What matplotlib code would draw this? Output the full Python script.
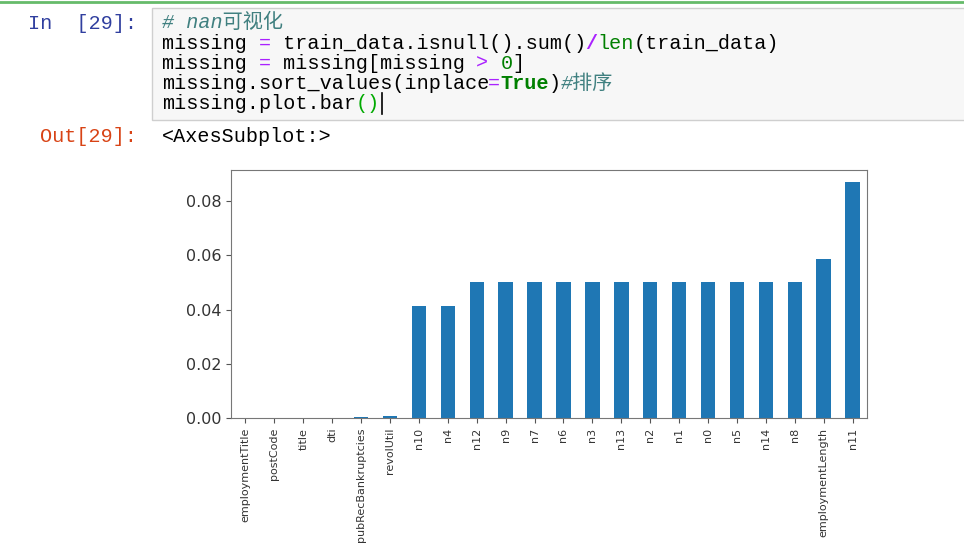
import matplotlib
matplotlib.use('Agg')
import matplotlib.pyplot as plt
from matplotlib.patches import Rectangle

# missing ratio per column (already sorted)
cols = ['employmentTitle', 'postCode', 'title', 'dti', 'pubRecBankruptcies',
        'revolUtil', 'n10', 'n4', 'n12', 'n9', 'n7', 'n6', 'n3', 'n13', 'n2',
        'n1', 'n0', 'n5', 'n14', 'n8', 'employmentLength', 'n11']
ratio = [0.0000013, 0.0000013, 0.0000013, 0.0001, 0.0005,
         0.00066, 0.0415, 0.0415, 0.0503, 0.0503, 0.0503, 0.0503, 0.0503, 0.0503, 0.0503,
         0.0503, 0.0503, 0.0503, 0.0503, 0.0503, 0.0587, 0.0872]

# code cell lines: (text, colour, weight, style)
BLK = '#000000'
OPR = '#AA22FF'
GRN = '#008000'
CMT = '#408080'
code_lines = [
    [('# nan可视化', CMT, 'normal', 'italic')],
    [('missing ', BLK, 'normal', 'normal'), ('=', OPR, 'normal', 'normal'),
     (' train_data.isnull().sum()', BLK, 'normal', 'normal'), ('/', OPR, 'bold', 'normal'),
     ('len', GRN, 'normal', 'normal'), ('(train_data)', BLK, 'normal', 'normal')],
    [('missing ', BLK, 'normal', 'normal'), ('=', OPR, 'normal', 'normal'),
     (' missing[missing ', BLK, 'normal', 'normal'), ('>', OPR, 'normal', 'normal'),
     (' ', BLK, 'normal', 'normal'), ('0', GRN, 'normal', 'normal'), (']', BLK, 'normal', 'normal')],
    [('missing.sort_values(inplace', BLK, 'normal', 'normal'), ('=', OPR, 'normal', 'normal'),
     ('True', GRN, 'bold', 'normal'), (')', BLK, 'normal', 'normal'),
     ('#排序', CMT, 'normal', 'italic')],
    [('missing.plot.bar', BLK, 'normal', 'normal'), ('()', '#00aa00', 'normal', 'normal')],
]

W, H = 964, 559
fig = plt.figure(figsize=(W / 100, H / 100), dpi=100)
fig.patch.set_facecolor('white')

# notebook background layer in pixel coordinates
nb = fig.add_axes([0, 0, 1, 1])
nb.set_xlim(0, W)
nb.set_ylim(H, 0)
nb.axis('off')

mono = ['Liberation Mono', 'Noto Sans CJK SC', 'DejaVu Sans']
fs = 14.5
cw = fs * 100 / 72 * 0.6  # column width in px

nb.plot([0, W], [1.5, 1.5], color='#66bb6a', lw=2)
nb.add_patch(Rectangle((152, 8), W, 112, facecolor='#f7f7f7', edgecolor='#cfcfcf', lw=1))

nb.text(137, 29, 'In  [29]:', ha='right', va='baseline', fontsize=fs,
        family=mono, color='#303F9F')
nb.text(137, 142, 'Out[29]:', ha='right', va='baseline', fontsize=fs,
        family=mono, color='#D84315')
nb.text(162, 142, '<AxesSubplot:>', ha='left', va='baseline', fontsize=fs,
        family=mono, color=BLK)

x0 = 162
baselines = [28, 49, 69, 89, 109]
for line, yb in zip(code_lines, baselines):
    col = 0
    for txt, c, wt, st in line:
        nb.text(x0 + col * cw, yb, txt, ha='left', va='baseline', fontsize=fs,
                family=mono, color=c, fontweight=wt, fontstyle=st)
        col += len(txt)
# cursor
nb.plot([x0 + 18 * cw + 2] * 2, [93, 114], color='black', lw=1.2)

# the bar chart
ax = fig.add_axes([231 / W, 1 - 418 / H, (867 - 231) / W, (418 - 170) / H])
xs = range(len(cols))
ax.bar(xs, ratio, width=0.5, color='#1f77b4')
ax.set_xlim(-0.5, len(cols) - 0.5)
ax.set_ylim(0, max(ratio) * 1.05)
ax.set_xticks(list(xs))
ax.set_xticklabels(cols, rotation=90, fontsize=8, color='#333333')
ax.set_yticks([0, 0.02, 0.04, 0.06, 0.08])
ax.set_yticklabels(['0.00', '0.02', '0.04', '0.06', '0.08'], fontsize=11.5, color='#333333')
for s in ax.spines.values():
    s.set_color('#777777')
ax.tick_params(colors='#555555', labelcolor='#333333')

fig.savefig('out.png', dpi=100)
